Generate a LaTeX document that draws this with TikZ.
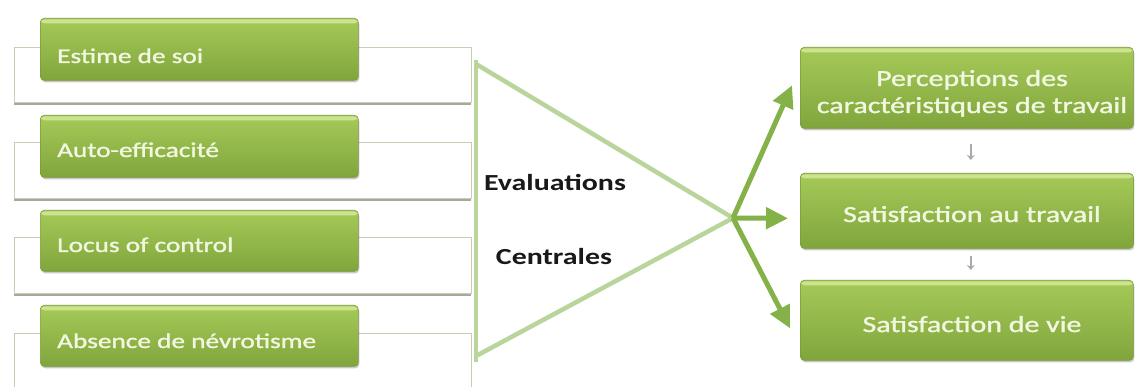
\documentclass[tikz,border=0pt]{standalone}
\usepackage{fontspec}
\setmainfont{Carlito}
\newfontfamily\boxfont{Carlito}[FakeBold=1.2]
\usetikzlibrary{shadows,arrows.meta,calc}

\definecolor{gtop}{HTML}{A6CA58}
\definecolor{gbot}{HTML}{80A53C}
\definecolor{gedge}{HTML}{7A9A38}
\definecolor{ghi}{HTML}{CDE48F}
\definecolor{gtext}{HTML}{F1F7E0}
\definecolor{arrowg}{HTML}{84B148}
\definecolor{trig}{HTML}{BAD59C}
\definecolor{frameln}{HTML}{C6CFB4}
\definecolor{frameshd}{HTML}{9CA290}
\definecolor{linkgray}{HTML}{AAAAAA}

% horizontally widened text
\newcommand\widetxt[1]{\scalebox{1.3}[1]{#1}}

\tikzset{
  gbox/.style={rounded corners=4pt, draw=gedge, line width=0.6pt,
    top color=gtop, bottom color=gbot, anchor=north west,
    drop shadow={shadow xshift=1pt, shadow yshift=-2pt, opacity=0.3, fill=black!70},
    path picture={\fill[ghi] ([yshift=-1.2pt]path picture bounding box.north west)
      rectangle ([yshift=-5pt]path picture bounding box.north east);}},
  framebox/.style={draw=frameln, line width=0.8pt, fill=white, anchor=north west,
    minimum width=457pt,
    drop shadow={shadow xshift=0pt, shadow yshift=-2.5pt, opacity=0.9, fill=frameshd}},
  ltxt/.style={text=gtext, font=\boxfont\fontsize{21}{25}\selectfont, anchor=base west, inner sep=0pt},
  rtxt/.style={text=gtext, font=\boxfont\fontsize{23}{27}\selectfont, anchor=base, inner sep=0pt},
  ctxt/.style={text=black!90, font=\bfseries\fontsize{23}{27}\selectfont, anchor=base, inner sep=0pt},
  garrow/.style={draw=arrowg, line width=5pt, -{Triangle[length=22pt,width=21pt]}},
  smallarrow/.style={draw=linkgray, line width=1.8pt, -{Stealth[length=5pt,width=8pt]}},
}

\begin{document}
\begin{tikzpicture}[x=1pt,y=-1pt]
\useasboundingbox (0,0) rectangle (1135,387);
\clip (0,0) rectangle (1135,387);
\fill[white] (0,0) rectangle (1135,387);

% outline frames behind the input boxes
\node[framebox, minimum height=55pt] (f1) at (14,47) {};
\node[framebox, minimum height=56pt] (f2) at (14,142) {};
\node[framebox, minimum height=56pt] (f3) at (14,237) {};
\node[framebox, minimum height=64pt] (f4) at (14,333) {};

% input boxes
\node[gbox, minimum width=318pt, minimum height=62pt] (b1) at (40,18) {};
\node[gbox, minimum width=318pt, minimum height=62pt] (b2) at (40,115) {};
\node[gbox, minimum width=318pt, minimum height=61pt] (b3) at (40,210) {};
\node[gbox, minimum width=318pt, minimum height=61pt] (b4) at (40,305) {};
\node[ltxt] (t1) at (57,63) {\widetxt{Estime de soi}};
\node[ltxt] (t2) at (57,157) {\widetxt{Auto-efficacité}};
\node[ltxt] (t3) at (57,252) {\widetxt{Locus of control}};
\node[ltxt] (t4) at (57,348) {\widetxt{Absence de névrotisme}};

% converging triangle
\coordinate (apex) at (733,218);
\coordinate (tl) at (476,64);
\coordinate (bl) at (476,356);
\draw[trig, line width=4pt] (476,60) -- (476,362);
\draw[trig, line width=4.5pt, line join=miter] (tl) -- (apex) -- (bl);
\node[ctxt] (ev) at (555,191) {\widetxt{Evaluations}};
\node[ctxt] (ce) at (554,265) {\widetxt{Centrales}};

% outcome boxes
\node[gbox, minimum width=333pt, minimum height=81pt] (ra) at (800,47) {};
\node[gbox, minimum width=333pt, minimum height=75pt] (rb) at (800,173) {};
\node[gbox, minimum width=333pt, minimum height=80pt] (rc) at (800,280) {};
\node[rtxt] (ta) at (972,113) {\widetxt{\begin{tabular}[b]{@{}c@{}}Perceptions des\\caractéristiques de travail\end{tabular}}};
\node[rtxt] (tb) at (972,222) {\widetxt{Satisfaction au travail}};
\node[rtxt] (tc) at (972,332) {\widetxt{Satisfaction de vie}};

% small links between outcome boxes
\draw[smallarrow, shorten <=15pt, shorten >=13pt] ([xshift=4pt]ra.south) -- ([xshift=4pt]rb.north);
\draw[smallarrow, shorten <=7pt, shorten >=10pt] ([xshift=4pt]rb.south) -- ([xshift=4pt]rc.north);

% arrows from the apex
\draw[garrow] (apex) -- ([xshift=-8pt,yshift=2.5pt]ra.west);
\draw[garrow] (apex) -- ([xshift=-12pt,yshift=-7.5pt]rb.west);
\draw[garrow] (apex) -- ([xshift=-10pt,yshift=-8pt]rc.west);
\end{tikzpicture}
\end{document}
